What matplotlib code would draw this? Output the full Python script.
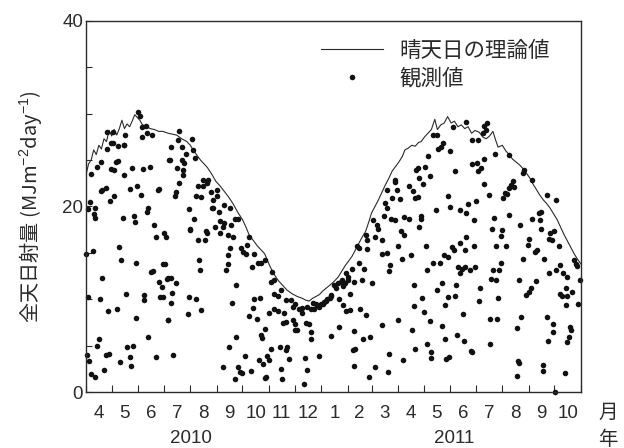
import matplotlib
matplotlib.use("Agg")
import matplotlib.pyplot as plt
import pandas as pd

plt.rcParams['font.family'] = ['Liberation Sans', 'Noto Sans CJK JP']
plt.rcParams['mathtext.fontset'] = 'custom'
plt.rcParams['mathtext.rm'] = 'Liberation Sans'
plt.rcParams['mathtext.it'] = 'Liberation Sans'

START = pd.Timestamp('2010-04-01')
END = pd.Timestamp('2011-11-01')

month_labels = ['4', '5', '6', '7', '8', '9', '10', '11', '12', '1',
                '2', '3', '4', '5', '6', '7', '8', '9', '10']
year_labels = ['2010', '2011']

# clear-sky theoretical value (days since 2010-04-01, MJ m-2 day-1)
line_day = [0, 3, 6, 9, 12, 15, 18, 21, 24, 27, 30, 33, 36, 39, 42, 45, 48, 51, 54, 57,
            60, 63, 66, 70, 75, 80, 85, 90, 96, 101, 106, 112, 118, 122, 126, 130, 134,
            138, 142, 147, 152, 157, 162, 167, 172, 178, 183, 187, 191, 196, 200, 205,
            209, 214, 218, 222, 226, 230, 235, 241, 247, 253, 257, 261, 265, 269, 273,
            277, 281, 285, 290, 295, 299, 303, 307, 311, 315, 319, 323, 327, 331, 334,
            338, 342, 346, 350, 354, 358, 362, 366, 370, 373, 377, 381, 385, 389, 392,
            396, 400, 404, 408, 411, 415, 419, 423, 427, 431, 435, 439, 443, 447, 451,
            455, 460, 464, 468, 472, 476, 479, 482, 487, 491, 495, 499, 503, 507, 511,
            515, 519, 523, 527, 531, 535, 539, 543, 547, 551, 555, 559, 563, 567, 571,
            575, 579]
line_val = [23.4, 24.6, 25.0, 26.1, 25.6, 26.6, 26.2, 27.3, 27.0, 28.2, 27.6, 28.3, 27.7,
            28.4, 29.3, 28.4, 28.9, 28.6, 29.2, 29.9, 29.6, 29.3, 28.8, 28.7, 28.4, 28.3,
            28.1, 28.1, 27.9, 27.8, 27.7, 27.3, 27.0, 26.6, 26.0, 25.5, 25.0, 24.6, 24.2,
            23.5, 22.7, 22.2, 21.6, 21.0, 20.3, 19.3, 18.6, 17.8, 16.9, 16.3, 15.8, 15.3,
            14.9, 13.8, 13.0, 12.4, 11.9, 11.5, 11.0, 10.6, 10.3, 10.1, 9.9, 9.8, 10.1,
            10.3, 10.5, 10.9, 11.2, 11.5, 11.9, 12.4, 13.0, 13.6, 14.1, 14.6, 15.3, 16.0,
            16.7, 17.3, 18.4, 19.3, 20.0, 20.7, 21.5, 22.3, 23.0, 23.8, 24.3, 24.8, 25.4,
            26.1, 26.3, 26.6, 26.5, 26.9, 27.0, 27.5, 27.9, 28.3, 29.4, 28.3, 28.8, 29.0,
            29.7, 29.0, 29.2, 28.6, 28.8, 28.4, 28.6, 27.9, 28.2, 28.0, 27.5, 27.3, 27.6,
            28.1, 27.2, 26.4, 26.6, 26.0, 25.6, 25.1, 24.8, 24.5, 24.1, 23.6, 23.1, 22.4,
            21.8, 21.2, 20.7, 20.3, 19.8, 19.2, 18.6, 17.8, 17.0, 16.3, 15.6, 14.9, 14.3,
            13.8]

# observed values (day, value)
observed = [
    (61, 30.2), (63, 29.8), (24, 28.0), (31, 28.0), (25, 26.2), (29, 26.9), (32, 26.8),
    (37, 26.5), (44, 26.6), (45, 26.6), (46, 27.7), (66, 28.6), (70, 28.7), (66, 27.5),
    (71, 27.9), (77, 27.7), (13, 24.3), (17, 24.8), (6, 23.5), (37, 24.9), (35, 24.8),
    (29, 24.0), (33, 23.9), (44, 23.4), (54, 24.1), (67, 24.0), (75, 24.3), (97, 25.0),
    (19, 21.8), (23, 22.0), (18, 21.7), (28, 20.6), (33, 21.1), (51, 21.9), (60, 22.2),
    (64, 21.2), (85, 21.9), (84, 21.8), (5, 20.5), (2, 19.7), (11, 19.8), (9, 19.2),
    (10, 18.8), (43, 18.8), (56, 19.0), (57, 18.3), (72, 19.8), (71, 19.4), (80, 18.0),
    (91, 17.1), (94, 16.7), (82, 16.7), (0, 14.9), (8, 15.2), (39, 15.6), (41, 14.2),
    (59, 13.9), (78, 13.0), (76, 12.9), (92, 13.8), (90, 13.8), (19, 12.3), (85, 11.9),
    (95, 12.2), (89, 11.3), (2, 10.2), (16, 10.0), (47, 10.6), (68, 10.5), (68, 9.9),
    (87, 10.2), (90, 10.2), (26, 8.7), (36, 9.0), (58, 8.0), (96, 7.8), (73, 5.9),
    (15, 5.7), (13, 5.0), (48, 4.9), (55, 5.0), (1, 4.0), (4, 3.3), (23, 4.0), (27, 4.1),
    (52, 3.8), (82, 3.8), (40, 3.2), (53, 2.8), (6, 1.9), (11, 1.6), (21, 2.4),
    (109, 28.1), (108, 27.2), (124, 27.3), (99, 26.4), (112, 26.4), (117, 25.7),
    (125, 26.1), (127, 25.2), (98, 25.0), (112, 25.0), (115, 24.7), (107, 24.1),
    (114, 23.9), (114, 23.4), (109, 22.5), (105, 21.6), (104, 21.1), (137, 22.9),
    (143, 22.9), (131, 22.2), (137, 22.2), (141, 22.5), (129, 21.1), (135, 21.0),
    (146, 21.6), (153, 21.8), (153, 21.1), (149, 20.7), (149, 19.8), (147, 19.8),
    (156, 19.4), (162, 20.2), (168, 19.8), (121, 19.7), (126, 18.6), (122, 17.6),
    (122, 17.5), (140, 17.4), (141, 17.1), (131, 16.4), (139, 16.4), (151, 17.8),
    (157, 18.4), (161, 18.2), (160, 17.8), (157, 17.1), (166, 16.9), (172, 16.7),
    (174, 18.7), (178, 18.6), (170, 18.0), (181, 15.5), (184, 15.1), (187, 14.9),
    (188, 15.9), (169, 15.5), (166, 14.8), (166, 13.8), (164, 13.2), (132, 14.2),
    (133, 13.1), (96, 12.3), (100, 12.3), (105, 11.7), (101, 10.7), (99, 9.6),
    (120, 10.2), (129, 10.0), (134, 8.8), (119, 8.4), (176, 11.5), (171, 9.6),
    (191, 8.2), (96, 7.8), (175, 5.9), (167, 4.9), (186, 3.9), (102, 4.0), (160, 2.7),
    (178, 2.7), (180, 2.2), (182, 2.0), (174, 1.4),
    (191, 16.7), (197, 14.9), (194, 13.5), (201, 13.9), (205, 13.9), (209, 14.2),
    (218, 12.9), (216, 11.9), (220, 12.1), (228, 11.0), (220, 10.6), (225, 10.4),
    (197, 10.0), (203, 10.1), (195, 9.1), (200, 7.9), (214, 8.5), (220, 8.9), (225, 8.7),
    (232, 8.5), (234, 9.9), (240, 9.9), (242, 9.2), (245, 9.5), (249, 9.0), (253, 9.1),
    (253, 8.5), (259, 9.2), (263, 8.9), (267, 9.0), (271, 9.3), (275, 9.5), (278, 9.7),
    (282, 10.0), (286, 10.3), (265, 9.6), (269, 9.5), (273, 9.2), (277, 9.5), (281, 9.8),
    (285, 10.1), (287, 10.5), (230, 7.4), (234, 7.5), (242, 7.8), (244, 7.3), (247, 6.7),
    (245, 6.7), (257, 7.4), (261, 7.3), (263, 6.5), (263, 5.7), (209, 6.8), (205, 6.1),
    (206, 5.8), (287, 6.0), (216, 4.6), (227, 4.8), (235, 4.9), (234, 4.5), (238, 3.6),
    (256, 3.7), (272, 3.9), (202, 3.5), (207, 3.0), (212, 3.9), (214, 3.5), (193, 2.3),
    (209, 1.5), (211, 1.6), (228, 2.5), (229, 1.4), (258, 2.4), (255, 0.9),
    (290, 11.5), (293, 11.2), (295, 11.7), (298, 11.9), (299, 12.1), (301, 11.4),
    (303, 11.7), (304, 12.8), (306, 12.4), (307, 12.1), (311, 13.3), (313, 11.9),
    (319, 13.9), (323, 12.1), (325, 13.3), (334, 11.8), (317, 15.7), (319, 15.5),
    (327, 16.9), (329, 16.4), (329, 15.4), (336, 18.5), (338, 16.7), (340, 18.0),
    (342, 17.6), (346, 16.4), (348, 19.0), (350, 20.4), (352, 19.8), (346, 14.9),
    (352, 15.0), (356, 13.7), (355, 13.0), (352, 21.8), (358, 20.9), (362, 22.9),
    (362, 22.6), (364, 21.8), (367, 20.8), (357, 18.6), (362, 18.5), (372, 18.9),
    (378, 18.7), (369, 17.4), (372, 16.9), (365, 15.7), (370, 14.3), (380, 14.8),
    (378, 22.2), (383, 21.7), (386, 23.9), (385, 20.9), (296, 10.0), (301, 9.4),
    (304, 8.7), (309, 8.8), (309, 10.6), (321, 8.9), (327, 8.3), (296, 7.0), (313, 6.6),
    (324, 5.7), (332, 5.9), (346, 7.2), (365, 7.8), (381, 6.7), (384, 11.5), (384, 9.3),
    (385, 4.6), (312, 4.5), (315, 4.6), (314, 2.8), (331, 1.6), (338, 2.7), (353, 2.2),
    (354, 4.1), (371, 3.5),
    (406, 27.7), (410, 27.7), (412, 26.2), (415, 26.4), (418, 26.9), (429, 28.6),
    (445, 29.1), (452, 27.2), (458, 27.2), (464, 27.9), (466, 28.7), (469, 29.0),
    (468, 28.2), (400, 25.4), (426, 26.0), (388, 24.1), (397, 24.3), (390, 23.1),
    (402, 23.3), (394, 22.4), (432, 23.8), (451, 24.6), (457, 24.7), (465, 25.1),
    (458, 23.8), (462, 24.2), (478, 25.7), (466, 22.4), (471, 21.2), (388, 21.0),
    (423, 21.1), (426, 19.9), (409, 19.6), (437, 19.6), (444, 19.3), (447, 20.3),
    (456, 20.6), (454, 18.5), (392, 19.0), (392, 18.6), (390, 17.8), (477, 18.8),
    (475, 17.6), (398, 15.7), (419, 14.8), (424, 14.6), (428, 15.6), (430, 15.3),
    (438, 16.1), (445, 16.7), (443, 15.3), (454, 15.7), (406, 13.9), (414, 13.9),
    (399, 13.2), (435, 13.5), (438, 12.8), (440, 13.3), (443, 13.5), (449, 13.2),
    (455, 13.5), (476, 13.2), (480, 12.1), (474, 12.2), (480, 15.7), (393, 10.1),
    (395, 8.6), (402, 7.7), (416, 7.1), (410, 11.0), (416, 11.7), (423, 10.2), (420, 9.4),
    (432, 10.3), (433, 11.5), (441, 8.4), (461, 11.2), (460, 9.8), (473, 7.9), (481, 7.9),
    (482, 10.1), (399, 5.2), (403, 4.3), (403, 3.7), (420, 5.7), (421, 3.6), (425, 3.8),
    (434, 6.1), (442, 5.5), (450, 4.4), (451, 4.3), (473, 5.2),
    (495, 25.5), (512, 23.9), (511, 23.6), (522, 22.9), (539, 21.2), (550, 20.7),
    (499, 22.8), (497, 22.3), (501, 22.1), (495, 22.0), (488, 20.9), (492, 21.3),
    (490, 21.5), (495, 19.1), (508, 18.0), (522, 18.7), (530, 19.3), (532, 19.4),
    (531, 18.5), (532, 17.6), (487, 17.5), (486, 16.8), (518, 16.5), (517, 15.8),
    (543, 17.1), (541, 16.5), (545, 16.4), (548, 17.4), (553, 15.7), (528, 15.3),
    (525, 15.1), (491, 15.7), (485, 13.9), (483, 13.2), (511, 14.3), (536, 14.3),
    (541, 12.8), (550, 13.2), (555, 13.7), (558, 12.8), (563, 12.4), (571, 14.2),
    (573, 13.8), (574, 13.6), (578, 12.1), (506, 12.1), (526, 12.0), (520, 11.2),
    (518, 10.8), (515, 10.5), (554, 10.6), (557, 10.4), (561, 11.2), (563, 10.4),
    (568, 10.8), (562, 9.4), (576, 9.5), (509, 8.1), (504, 6.9), (539, 8.1), (546, 7.3),
    (546, 6.5), (540, 5.5), (566, 7.0), (567, 6.7), (565, 5.9), (563, 5.4), (505, 3.3),
    (506, 3.1), (504, 1.7), (535, 2.9), (535, 2.3), (560, 2.1), (549, 0.0),
]
obs_day = [d for d, v in observed]
obs_val = [v for d, v in observed]

ink = '#2b2b2b'

month_starts = pd.date_range(START, END, freq='MS')
month_pos = [(m - START).days for m in month_starts]
month_mid = [(a + b) / 2 for a, b in zip(month_pos[:-1], month_pos[1:])]
year_pos = [(pd.Timestamp('2010-08-02') - START).days, (pd.Timestamp('2011-06-06') - START).days]

fig = plt.figure(figsize=(6.24, 4.48), dpi=100)
ax = fig.add_axes([86 / 624, 1 - 392 / 448, 495 / 624, 371 / 448])

ax.plot(line_day, line_val, color=ink, lw=0.8, label='晴天日の理論値')
ax.plot(obs_day, obs_val, 'o', color='#111111', ms=4.0, mew=0, label='観測値', clip_on=False)

ax.set_xlim(0, month_pos[-1])
ax.set_ylim(0, 40)

ax.set_xticks(month_pos)
ax.set_xticklabels([])
ax.set_xticks(month_mid, minor=True)
ax.set_xticklabels(month_labels, minor=True)
ax.tick_params(axis='x', which='major', direction='in', length=5, width=0.8, color=ink)
ax.tick_params(axis='x', which='minor', length=0, pad=9, labelsize=13.5, labelcolor=ink)

ax.set_yticks([0, 20, 40])
ax.set_yticks(range(5, 40, 5), minor=True)
ax.tick_params(axis='y', which='both', direction='in', length=4, width=0.8, color=ink,
               labelsize=13.5, labelcolor=ink, pad=2)

for s in ax.spines.values():
    s.set_color(ink)
    s.set_linewidth(1.0)

for yp, yl in zip(year_pos, year_labels):
    ax.text(yp, -0.125, yl, transform=ax.get_xaxis_transform(), ha='center', va='center',
            fontsize=13.5, color=ink)
ax.text(1.055, -0.058, '月', transform=ax.transAxes, ha='center', va='center',
        fontsize=14, color=ink)
ax.text(1.055, -0.128, '年', transform=ax.transAxes, ha='center', va='center',
        fontsize=14, color=ink)

ax.set_ylabel('全天日射量 (MJm$^{-2}$day$^{-1}$)', fontsize=14.5, color=ink,
              family='Noto Sans CJK JP')
ax.yaxis.set_label_coords(-0.085, 0.5)

ax.legend(loc='upper left', bbox_to_anchor=(0.457, 0.97), frameon=False, fontsize=15.5,
          handlelength=2.9, handletextpad=0.75, labelspacing=0.3, numpoints=1,
          labelcolor=ink, borderaxespad=0)

fig.savefig('out.png', dpi=100)
